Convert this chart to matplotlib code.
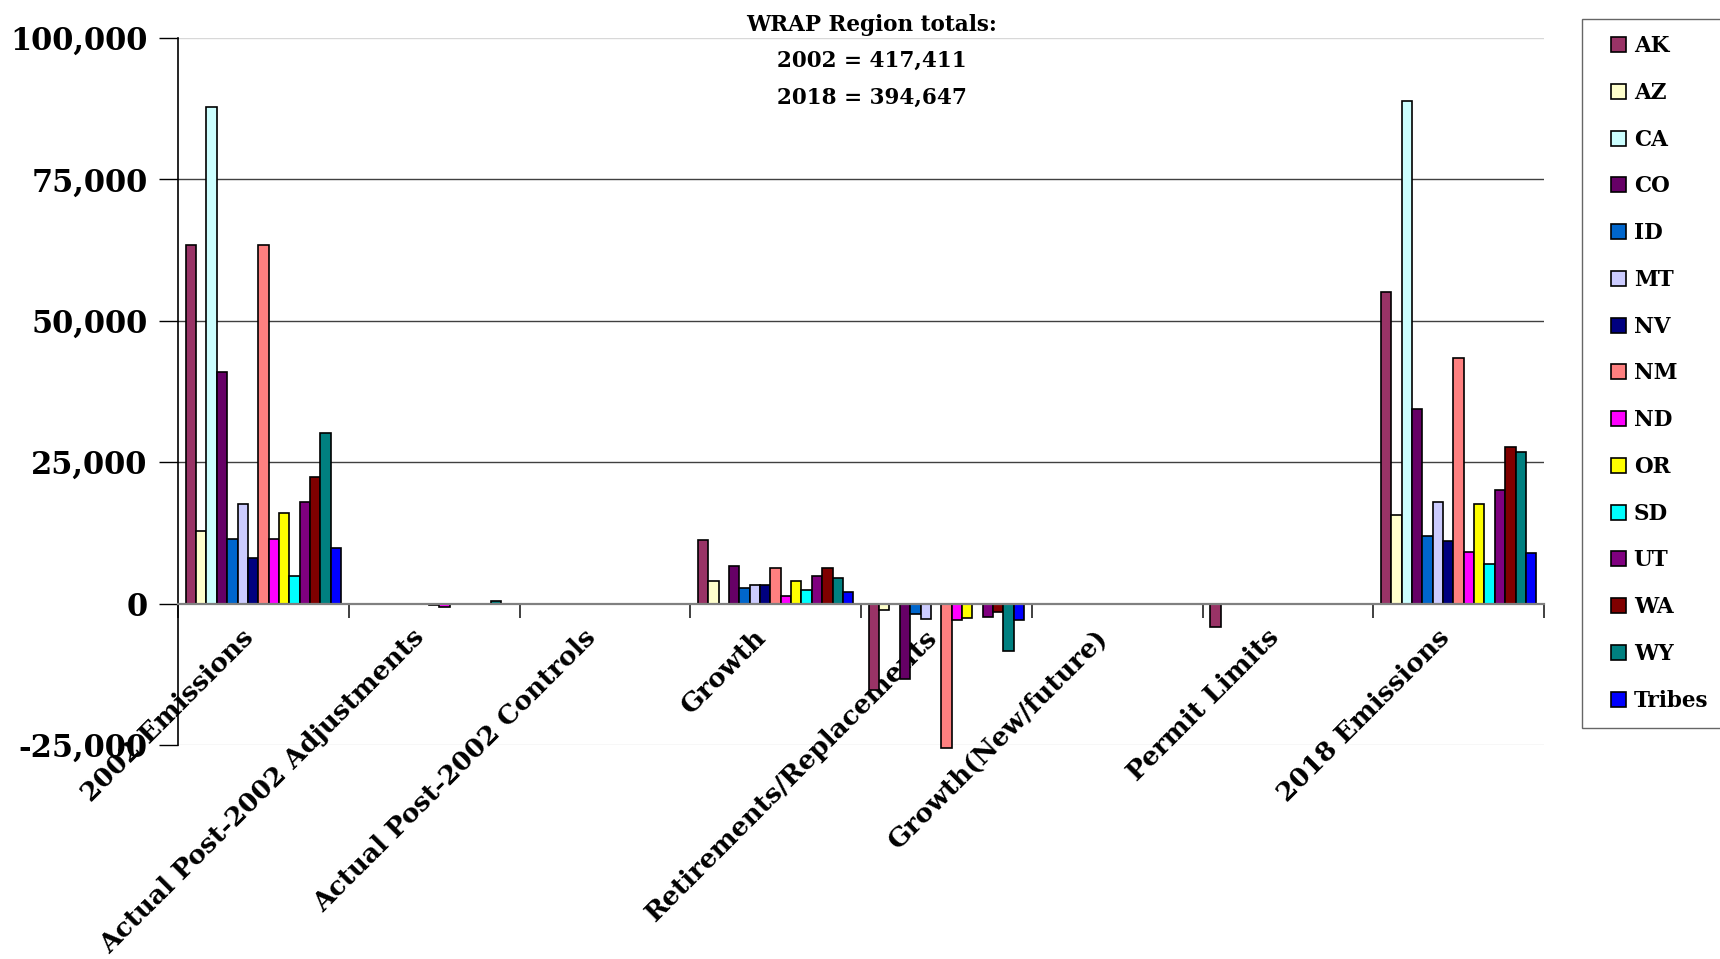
import matplotlib.pyplot as plt
import matplotlib.transforms as mtransforms
from matplotlib.container import BarContainer
from matplotlib.legend_handler import HandlerPatch, update_from_first_child
from matplotlib.patches import Rectangle
import numpy as np

states = ['AK', 'AZ', 'CA', 'CO', 'ID', 'MT', 'NV', 'NM', 'ND', 'OR', 'SD',
          'UT', 'WA', 'WY', 'Tribes']
state_colors = ['#993366', '#FFFFCC', '#CCFFFF', '#660066', '#0066CC',
                '#CCCCFF', '#000080', '#FF8080', '#FF00FF', '#FFFF00',
                '#00FFFF', '#800080', '#800000', '#008080', '#0000FF']

categories = ['2002 Emissions', 'Actual Post-2002 Adjustments',
              'Actual Post-2002 Controls', 'Growth',
              'Retirements/Replacements', 'Growth(New/future)',
              'Permit Limits', '2018 Emissions']

# one value per state, in the order of `states`
emis_2002 = [63350, 12900, 87800, 40900, 11340, 17560, 7990, 63350, 11340,
             15980, 4880, 17930, 22440, 30120, 9820]
adjustments = [0, 0, 0, 0, 0, 0, 0, -300, -550, 0, 0, 0, 0, 450, 0]
controls = [0, 0, 0, 0, 0, 0, 0, 0, 0, 0, 0, 0, 0, 0, 0]
growth = [11320, 3950, 0, 6720, 2710, 3360, 3360, 6370, 1420, 3950, 2420,
          4900, 6370, 4540, 2120]
retirements = [-15200, -1190, 0, -13270, -1790, -2680, 0, -25600, -2980,
               -2500, 0, -2380, -1490, -8330, -2980]
growth_new = [0, 0, 0, 0, 0, 0, 0, 0, 0, 0, 0, 0, 0, 0, 0]
permit_limits = [-4070, 0, 0, 0, 0, 0, 0, 0, 0, 0, 0, 0, 0, 0, 0]
emis_2018 = [55060, 15670, 88900, 34450, 12010, 17930, 11100, 43410, 9150,
             17560, 7070, 20000, 27620, 26770, 8900]

y_ticks = [-25000, 0, 25000, 50000, 75000, 100000]

table = np.array([emis_2002, adjustments, controls, growth, retirements,
                  growth_new, permit_limits, emis_2018])

font = 'DejaVu Serif'
fig = plt.figure(figsize=(17.2, 9.59), dpi=100)
ax = fig.add_axes([178 / 1720, 1 - 745 / 959, (1544 - 178) / 1720, (745 - 38) / 959])

x = np.arange(len(categories))
width = 1 / 16.5
for j, (st, col) in enumerate(zip(states, state_colors)):
    ax.bar(x + (j - 7) * width, table[:, j], width, color=col,
           edgecolor='black', linewidth=1.2, label=st, zorder=2, clip_on=False)

# horizontal grid
for v in y_ticks:
    if v == 0:
        continue
    c = '#d8d8d8' if v in (y_ticks[0], y_ticks[-1]) else '#404040'
    ax.axhline(v, color=c, lw=1, zorder=0.5)

ax.set_xlim(-0.5, len(categories) - 0.5)
ax.set_ylim(y_ticks[0], y_ticks[-1])
ax.set_yticks(y_ticks)
ax.set_yticklabels([f'{v:,}' for v in y_ticks], fontsize=22,
                   fontweight='bold', family=font)
ax.tick_params(axis='y', direction='out', length=14, width=1, pad=8)

ax.spines['top'].set_visible(False)
ax.spines['right'].set_visible(False)
ax.spines['left'].set_linewidth(1.2)
ax.spines['bottom'].set_position(('data', 0))
ax.spines['bottom'].set_color('#808080')
ax.spines['bottom'].set_linewidth(1.6)

ax.set_xticks(x)
ax.set_xticks(np.arange(len(categories) + 1) - 0.5, minor=True)
ax.tick_params(axis='x', which='major', length=0, pad=8)
ax.tick_params(axis='x', which='minor', direction='out', length=10,
               width=1.2, color='#202020')
ax.set_xticklabels(categories, rotation=45, ha='right',
                   rotation_mode='anchor', fontsize=19, fontweight='bold',
                   family=font)
shift = mtransforms.ScaledTranslation(-22 / 100, -10 / 100, fig.dpi_scale_trans)
for lbl in ax.get_xticklabels():
    lbl.set_transform(lbl.get_transform() + shift)

fig.text(872 / 1720, 1 - 61 / 959,
         'WRAP Region totals:\n2002 = 417,411\n2018 = 394,647',
         ha='center', va='center', fontsize=15.5, fontweight='bold',
         family=font, linespacing=1.85)


def square_handle(legend, orig_handle, xdescent, ydescent, width, height,
                  fontsize):
    # small square sitting at the right end of the handle box
    side = 0.7 * fontsize
    return Rectangle((width - side - xdescent, (height - side) / 2 - ydescent),
                     side, side)


leg = fig.legend(loc='upper left', bbox_to_anchor=(1582 / 1720, 1 - 19 / 959),
                 ncol=1, frameon=True, fancybox=False, borderaxespad=0,
                 prop={'family': font, 'weight': 'bold', 'size': 15.5},
                 handlelength=1.3, handleheight=0.7, handletextpad=0.35,
                 labelspacing=1.15, borderpad=0.75,
                 handler_map={BarContainer: HandlerPatch(
                     patch_func=square_handle,
                     update_func=update_from_first_child)})
leg.get_frame().set_edgecolor('#404040')
leg.get_frame().set_linewidth(1.0)

fig.savefig('out.png', dpi=100)
